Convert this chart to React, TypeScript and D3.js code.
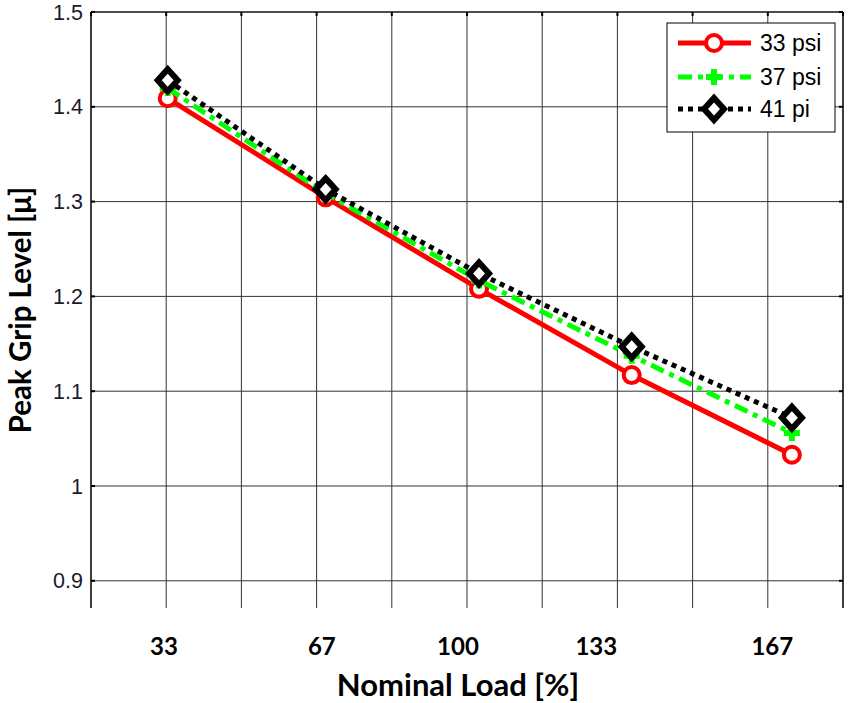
import React from "react";
import * as d3 from "d3";

// x positions are in grid units (vertical grid lines at integers 0..10)
const pointX = [1.02, 3.12, 5.16, 7.19, 9.32];
const series33 = [1.409, 1.3045, 1.208, 1.117, 1.033];
const series37 = [1.4197, 1.3087, 1.2167, 1.1374, 1.056];
const series41 = [1.428, 1.3129, 1.2241, 1.1469, 1.072];
const seriesNames = ["33 psi", "37 psi", "41 pi"];
const xTickLabels = ["33", "67", "100", "133", "167"];
const xTickLabelPos = [0.97, 3.07, 4.88, 6.72, 9.06];
const yTicks = [0.9, 1.0, 1.1, 1.2, 1.3, 1.4, 1.5];
const xGrid = [0, 1, 2, 3, 4, 5, 6, 7, 8, 9, 10];

const W = 850, H = 703;
const left = 91, right = 843, top = 12, bottom = 608;

export default function App() {
  const x = d3.scaleLinear().domain([0, 10]).range([left, right]);
  const y = d3.scaleLinear().domain([0.8713, 1.5]).range([bottom, top]);
  const line = d3.line<number>().x((_, i) => x(pointX[i])).y((d) => y(d));

  const styles = [
    { color: "#ff0000", dash: "none", data: series33, marker: "circle" },
    { color: "#00ff00", dash: "14 6 5 6", data: series37, marker: "plus" },
    { color: "#000000", dash: "5 5", data: series41, marker: "diamond" },
  ];

  const marker = (type: string, cx: number, cy: number, color: string, key: string) => {
    if (type === "circle")
      return <circle key={key} cx={cx} cy={cy} r={8} fill="white" stroke={color} strokeWidth={4} />;
    if (type === "plus")
      return (
        <path key={key} d={`M${cx - 8},${cy}H${cx + 8}M${cx},${cy - 8}V${cy + 8}`} stroke={color} strokeWidth={6} fill="none" />
      );
    return (
      <path key={key} d={`M${cx},${cy - 11}L${cx + 10},${cy}L${cx},${cy + 11}L${cx - 10},${cy}Z`} fill="white" stroke={color} strokeWidth={6} />
    );
  };

  const legendRows = [43, 77, 109];

  return (
    <svg width={W} height={H} style={{ position: "absolute", left: 0, top: 0, background: "white" }}>
      <rect x={0} y={0} width={W} height={H} fill="white" />
      {/* grid */}
      {xGrid.map((g) => (
        <line key={"vx" + g} x1={x(g)} x2={x(g)} y1={top} y2={bottom} stroke="#333" strokeWidth={1} />
      ))}
      {yTicks.map((t) => (
        <line key={"hy" + t} x1={left} x2={right} y1={y(t)} y2={y(t)} stroke="#333" strokeWidth={1} />
      ))}
      {/* frame */}
      <line x1={left} x2={right} y1={top} y2={top} stroke="#000" strokeWidth={1.2} />
      <line x1={left} x2={left} y1={top} y2={bottom} stroke="#000" strokeWidth={1.2} />
      <line x1={right} x2={right} y1={top} y2={bottom} stroke="#000" strokeWidth={1.2} />
      {/* small ticks */}
      {yTicks.map((t) => (
        <g key={"ty" + t}>
          <line x1={left} x2={left + 4} y1={y(t)} y2={y(t)} stroke="#000" strokeWidth={2} />
          <line x1={right - 4} x2={right} y1={y(t)} y2={y(t)} stroke="#000" strokeWidth={2} />
        </g>
      ))}
      {xGrid.map((g) => (
        <line key={"tx" + g} x1={x(g)} x2={x(g)} y1={top} y2={top + 4} stroke="#000" strokeWidth={2} />
      ))}
      {/* y tick labels */}
      {yTicks.map((t) => (
        <text key={"yl" + t} x={left - 8} y={y(t)} dy="0.35em" textAnchor="end" fontFamily="Liberation Sans, Arial" fontSize={21.5} fill="#1a1a2e">
          {t === 1 ? "1" : t.toFixed(1)}
        </text>
      ))}
      {/* x tick labels */}
      {xTickLabels.map((l, i) => (
        <text key={"xl" + l} x={x(xTickLabelPos[i])} y={655} textAnchor="middle" fontFamily="Lato, Open Sans, sans-serif" fontWeight="bold" fontSize={24} fill="#000">
          {l}
        </text>
      ))}
      <text x={458} y={696} textAnchor="middle" fontFamily="Lato, Open Sans, sans-serif" fontWeight="bold" fontSize={31} fill="#000">
        Nominal Load [%]
      </text>
      <text transform={`translate(31,${310}) rotate(-90)`} textAnchor="middle" fontFamily="Lato, Open Sans, sans-serif" fontWeight="bold" fontSize={29.5} fill="#000">
        Peak Grip Level [μ]
      </text>
      {/* series */}
      {styles.map((s, si) => (
        <g key={"s" + si}>
          <path d={line(s.data) || ""} fill="none" stroke={s.color} strokeWidth={5} strokeDasharray={s.dash} />
          {s.data.map((v, i) => marker(s.marker, x(pointX[i]), y(v), s.color, "m" + si + i))}
        </g>
      ))}
      {/* legend */}
      <rect x={667} y={23} width={168} height={109} fill="white" stroke="#000" strokeWidth={1} />
      {styles.map((s, i) => (
        <g key={"lg" + i}>
          <line x1={678} x2={751} y1={legendRows[i]} y2={legendRows[i]} stroke={s.color} strokeWidth={5} strokeDasharray={s.dash} />
          {marker(s.marker, 714, legendRows[i], s.color, "lm" + i)}
          <text x={760} y={legendRows[i]} dy="0.35em" fontFamily="Liberation Sans, Arial" fontSize={23} fill="#000">
            {seriesNames[i]}
          </text>
        </g>
      ))}
    </svg>
  );
}
